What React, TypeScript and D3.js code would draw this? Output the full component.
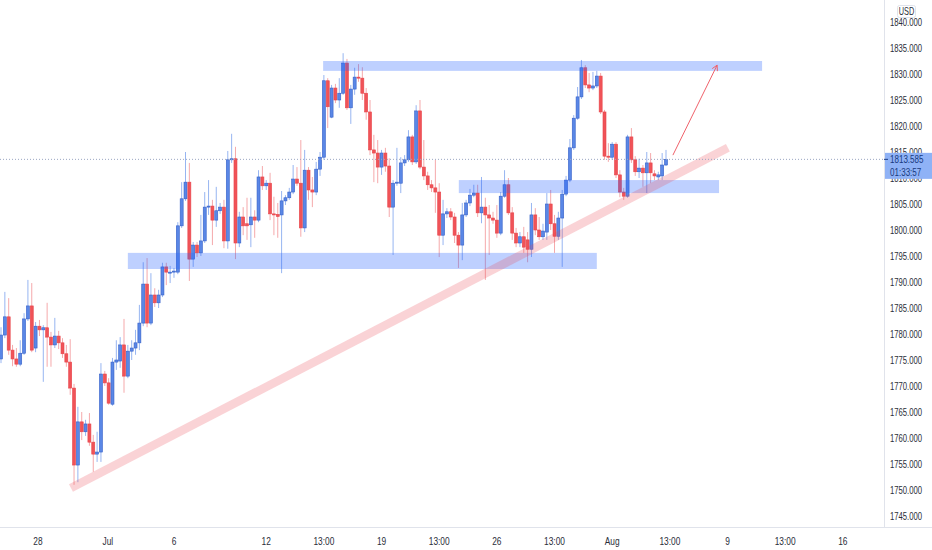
import React from "react";
import * as d3 from "d3";

const opens = [1775.2,1779.8,1783.3,1776.9,1775.2,1774.2,1776.3,1782.9,1785.4,1777.3,
1781.5,1780.8,1781.2,1779.4,1777.9,1779.6,1778.3,1776.2,1774.6,1769.6,
1754.8,1763.1,1761.2,1762.7,1759.2,1756.9,1757.3,1772.3,1770.6,1766.5,
1774.6,1774.8,1777.9,1771.9,1776.7,1777.3,1778.3,1782.1,1789.6,1782.1,
1787.5,1786.0,1787.5,1792.9,1791.7,1791.9,1791.9,1800.8,1806.0,1809.2,
1794.4,1797.1,1795.6,1797.9,1804.4,1804.6,1801.9,1803.7,1804.4,1797.9,
1813.5,1813.7,1797.5,1802.5,1801.2,1801.0,1802.5,1801.9,1810.2,1808.5,
1809.0,1803.1,1803.0,1802.9,1805.6,1806.2,1807.3,1809.8,1809.0,1800.4,
1811.5,1807.7,1807.3,1811.7,1814.0,1828.7,1821.7,1827.3,1825.0,1826.3,
1832.1,1823.5,1827.1,1829.4,1829.2,1826.3,1822.7,1815.4,1814.8,1812.1,
1814.8,1812.3,1804.4,1809.0,1809.0,1812.9,1813.5,1817.9,1813.1,1822.9,
1812.1,1810.4,1808.7,1808.1,1807.3,1799.0,1803.1,1803.5,1802.5,1799.0,
1797.1,1802.9,1805.2,1806.7,1807.1,1803.3,1804.4,1802.9,1802.3,1801.9,
1799.4,1806.5,1808.7,1803.3,1799.4,1797.5,1798.7,1798.1,1796.3,1802.9,
1800.0,1798.7,1799.6,1805.0,1801.2,1798.8,1802.3,1806.9,1809.6,1815.8,
1821.5,1825.6,1831.2,1827.9,1827.3,1827.7,1829.6,1822.7,1814.2,1814.0,
1816.5,1810.6,1807.3,1806.5,1817.9,1813.5,1811.2,1811.9,1811.0,1812.9,
1810.8,1810.2,1810.4,1812.5];

const highs = [1781.3,1788.1,1786.9,1777.9,1777.3,1778.8,1784.0,1790.4,1789.8,1782.3,
1782.7,1781.7,1786.0,1780.4,1783.1,1780.6,1779.2,1777.9,1779.0,1770.4,
1766.0,1765.0,1763.5,1764.8,1760.6,1761.2,1774.4,1772.9,1771.5,1775.4,
1778.8,1779.4,1782.9,1777.9,1778.8,1780.8,1785.6,1793.8,1794.6,1791.7,
1788.8,1788.5,1793.7,1793.7,1793.1,1792.7,1801.5,1809.2,1815.0,1812.9,
1797.7,1797.7,1802.9,1807.3,1809.6,1805.8,1808.3,1805.2,1805.8,1815.2,
1818.5,1816.0,1803.5,1804.4,1806.2,1806.2,1803.8,1811.5,1812.3,1809.6,
1811.0,1806.4,1805.2,1807.5,1806.7,1808.1,1812.5,1812.1,1817.3,1815.4,
1812.1,1810.2,1813.1,1815.0,1829.8,1829.2,1827.9,1828.1,1829.2,1834.0,
1832.9,1827.9,1831.2,1831.9,1831.3,1827.3,1825.0,1818.3,1817.3,1815.4,
1815.8,1813.8,1809.6,1815.8,1814.0,1814.4,1819.2,1818.3,1824.0,1825.0,
1817.3,1811.2,1809.6,1813.5,1809.0,1805.8,1804.2,1804.2,1803.3,1799.6,
1805.2,1805.8,1807.9,1808.7,1808.7,1810.2,1806.2,1804.8,1803.5,1804.8,
1807.3,1811.5,1810.0,1804.4,1800.4,1799.6,1800.6,1799.6,1805.2,1804.2,
1802.5,1801.2,1807.1,1807.7,1802.9,1803.5,1807.7,1810.4,1817.5,1822.1,
1827.5,1832.7,1831.7,1830.2,1830.4,1830.6,1830.2,1823.1,1816.7,1816.9,
1816.9,1811.5,1808.1,1818.3,1819.6,1814.2,1813.7,1812.5,1815.0,1814.8,
1811.5,1811.2,1814.8,1815.4];

const lows = [1774.4,1779.2,1776.0,1773.8,1773.7,1773.8,1776.0,1782.5,1776.5,1776.5,
1779.6,1770.8,1773.7,1773.7,1777.3,1777.1,1775.4,1773.7,1768.3,1751.0,
1751.5,1759.6,1760.4,1758.5,1753.5,1755.4,1755.4,1770.0,1766.4,1766.2,
1773.1,1773.5,1768.7,1771.5,1775.0,1776.0,1776.9,1781.5,1781.3,1781.7,
1785.2,1785.0,1787.1,1789.4,1789.8,1790.8,1791.5,1800.4,1805.6,1790.2,
1792.9,1794.8,1795.0,1797.5,1802.9,1797.1,1800.6,1803.1,1796.5,1796.4,
1812.9,1794.4,1796.7,1799.0,1798.1,1796.7,1798.5,1801.5,1807.7,1807.7,
1801.9,1799.0,1798.5,1791.7,1804.8,1805.8,1806.9,1808.5,1798.7,1799.6,
1805.8,1804.4,1806.7,1810.4,1813.5,1819.6,1821.5,1824.4,1823.5,1826.0,
1823.1,1820.4,1826.0,1828.5,1825.0,1821.2,1814.4,1809.2,1809.0,1810.6,
1811.2,1802.5,1795.2,1808.5,1807.1,1812.3,1813.1,1812.5,1812.7,1811.7,
1809.6,1807.7,1807.3,1803.3,1794.8,1797.1,1802.3,1801.9,1797.5,1792.7,
1794.2,1802.5,1804.6,1806.3,1802.5,1801.3,1790.4,1795.2,1801.2,1798.5,
1799.0,1806.2,1802.9,1798.1,1796.7,1796.7,1795.6,1793.8,1794.8,1799.0,
1798.1,1798.1,1798.1,1800.0,1795.6,1798.1,1792.9,1806.5,1809.2,1815.4,
1821.2,1825.2,1827.3,1826.5,1826.9,1827.3,1822.3,1813.5,1813.1,1813.5,
1810.0,1806.3,1805.8,1806.2,1812.9,1810.4,1810.0,1808.3,1807.1,1809.0,
1809.6,1809.6,1809.6,1812.3];

const closes = [1779.8,1783.3,1776.9,1775.2,1774.2,1776.3,1782.9,1785.4,1776.9,1781.5,
1780.8,1781.2,1779.4,1777.9,1779.6,1778.3,1776.2,1774.6,1769.6,1754.8,
1763.1,1761.2,1762.7,1759.2,1756.9,1757.3,1772.3,1770.6,1766.7,1774.6,
1775.0,1777.9,1771.9,1776.7,1777.3,1778.3,1782.1,1789.6,1782.1,1787.5,
1786.0,1787.5,1792.9,1791.9,1791.9,1792.1,1800.8,1806.0,1809.2,1794.4,
1797.1,1795.6,1797.9,1804.4,1804.6,1801.9,1803.7,1804.4,1797.9,1813.5,
1813.7,1797.5,1802.5,1800.8,1800.8,1802.5,1801.9,1810.2,1808.5,1809.0,
1803.1,1802.9,1802.6,1805.6,1806.2,1807.3,1809.8,1809.0,1800.4,1811.5,
1807.7,1807.3,1811.7,1814.0,1828.7,1823.7,1827.3,1825.0,1826.3,1832.1,
1823.5,1827.1,1829.4,1829.2,1826.3,1822.7,1815.4,1814.8,1812.1,1814.8,
1812.3,1804.4,1809.0,1809.2,1812.9,1813.5,1817.9,1813.1,1822.9,1812.1,
1810.4,1808.7,1808.1,1807.3,1799.0,1803.1,1803.5,1802.5,1799.0,1797.1,
1802.9,1805.2,1806.7,1807.1,1803.3,1804.4,1802.9,1802.3,1801.9,1799.4,
1806.5,1808.7,1803.3,1799.4,1797.5,1798.7,1796.7,1796.3,1802.9,1800.0,
1798.7,1799.8,1805.0,1801.2,1798.8,1802.3,1806.9,1809.6,1815.8,1821.5,
1825.6,1831.2,1827.9,1827.3,1827.7,1829.6,1822.7,1814.2,1814.0,1816.5,
1810.6,1807.3,1806.5,1817.9,1813.5,1811.2,1811.9,1811.0,1812.9,1811.0,
1810.4,1810.6,1812.5,1813.585];

// time axis ticks: bar index and label
const timeTickIdx = [9.6, 27.8, 45, 69, 84, 99, 114, 129, 144, 159, 174, 189, 204, 219];
const timeTickLabels = ["28", "Jul", "6", "12", "13:00", "19", "13:00", "26", "13:00", "Aug", "13:00", "9", "13:00", "16"];

// price ticks
const priceTicks = d3.range(1745, 1841, 5);

// zones (bar index start/end, price top/bottom)
const zoneStart = [83.8, 119.1, 33];
const zoneEnd = [198, 186.8, 155];
const zoneTop = [1832.5, 1809.6, 1795.6];
const zoneBottom = [1830.6, 1807.1, 1792.5];

// trend line & arrow
const trendIdx = [18.2, 189.1];
const trendPrice = [1750.4, 1815.8];
const arrowIdx = [174.8, 186.3];
const arrowPrice = [1814.4, 1831.7];

const lastPrice = 1813.585;
const lastPriceLabel = "1813.585";
const countdown = "01:33:57";
const currency = "USD";

const W = 932, H = 550;
const PLOT_R = 884;
const AXIS_Y = 527.5;
const FONT = "'Liberation Sans', Arial, sans-serif";

function SText({ x, y, children, anchor = "start", fill = "#2a2e39", size = 11, sx = 0.7 }: any) {
  return (
    <g transform={`translate(${x},${y}) scale(${sx},1)`}>
      <text x={0} y={0} textAnchor={anchor} fontFamily={FONT} fontSize={size} fill={fill}>
        {children}
      </text>
    </g>
  );
}

export default function App() {
  const x = d3.scaleLinear().domain([0, 173]).range([1, 666]);
  const y = d3.scaleLinear().domain([1745, 1840]).range([516, 22]);
  const bw = 3;

  const candles = opens.map((o, i) => {
    const c = closes[i];
    const up = c >= o;
    const cx = x(i);
    const top = y(Math.max(o, c));
    const bot = y(Math.min(o, c));
    const h = Math.max(1, bot - top);
    return (
      <g key={i}>
        <line x1={cx} x2={cx} y1={y(highs[i])} y2={y(lows[i])}
          stroke={up ? "#97b5f1" : "#f5a9ab"} strokeWidth={1} />
        <rect x={cx - bw / 2} y={top} width={bw} height={h}
          fill={up ? "#5a87e6" : "#f05358"}
          stroke={up ? "#3560c8" : "#e8444a"} strokeWidth={0.6} />
      </g>
    );
  });

  const tx1 = x(trendIdx[0]), ty1 = y(trendPrice[0]);
  const tx2 = x(trendIdx[1]), ty2 = y(trendPrice[1]);
  const ax1 = x(arrowIdx[0]), ay1 = y(arrowPrice[0]);
  const ax2 = x(arrowIdx[1]), ay2 = y(arrowPrice[1]);
  const ang = Math.atan2(ay2 - ay1, ax2 - ax1);
  const hl = 6;
  const hx1 = ax2 - hl * Math.cos(ang - 0.5), hy1 = ay2 - hl * Math.sin(ang - 0.5);
  const hx2 = ax2 - hl * Math.cos(ang + 0.5), hy2 = ay2 - hl * Math.sin(ang + 0.5);

  const lp = y(lastPrice);

  return (
    <div style={{ position: "fixed", left: 0, top: 0, width: W, height: H, background: "#fff" }}>
      <svg width={W} height={H} style={{ display: "block" }}>
        <rect x={0} y={0} width={W} height={H} fill="#ffffff" />
        <defs>
          <clipPath id="plot">
            <rect x={0} y={0} width={PLOT_R} height={AXIS_Y} />
          </clipPath>
        </defs>
        <g clipPath="url(#plot)">
          {candles}
          {zoneStart.map((s, i) => (
            <rect key={i} x={x(s)} y={y(zoneTop[i])} width={x(zoneEnd[i]) - x(s)}
              height={y(zoneBottom[i]) - y(zoneTop[i])} fill="rgba(41,98,255,0.3)" />
          ))}
          <line x1={tx1} y1={ty1} x2={tx2} y2={ty2} stroke="rgba(236,70,85,0.24)" strokeWidth={8.5} strokeLinecap="butt" />
          <line x1={ax1} y1={ay1} x2={ax2} y2={ay2} stroke="#f0626b" strokeWidth={1} />
          <polyline points={`${hx1},${hy1} ${ax2},${ay2} ${hx2},${hy2}`} fill="none" stroke="#f0626b" strokeWidth={1} />
          <line x1={0} x2={PLOT_R} y1={lp} y2={lp} stroke="#9aa6c2" strokeWidth={1} strokeDasharray="1 2" />
        </g>

        <line x1={PLOT_R + 0.5} x2={PLOT_R + 0.5} y1={0} y2={AXIS_Y} stroke="#e0e3eb" />
        <line x1={0} x2={W} y1={AXIS_Y} y2={AXIS_Y} stroke="#e0e3eb" />

        {priceTicks.map((p) => (
          <SText key={p} x={890} y={y(p) + 4}>{p.toFixed(3)}</SText>
        ))}

        <rect x={885} y={lp - 6.5} width={W - 885} height={26} fill="#8fb2f6" />
        <line x1={PLOT_R} x2={PLOT_R + 4} y1={lp} y2={lp} stroke="#1d3f86" />
        <SText x={890} y={lp + 4} fill="#183a80" size={11.5}>{lastPriceLabel}</SText>
        <SText x={890} y={lp + 16.5} fill="#183a80" size={11.5}>{countdown}</SText>

        <rect x={897.5} y={5.5} width={18} height={12} rx={2} fill="#fff" stroke="#e0e3eb" />
        <SText x={906.5} y={15} anchor="middle" size={10.5}>{currency}</SText>

        {timeTickIdx.map((t, i) => (
          <SText key={i} x={x(t)} y={545} anchor="middle" sx={0.76}>{timeTickLabels[i]}</SText>
        ))}
      </svg>
    </div>
  );
}
